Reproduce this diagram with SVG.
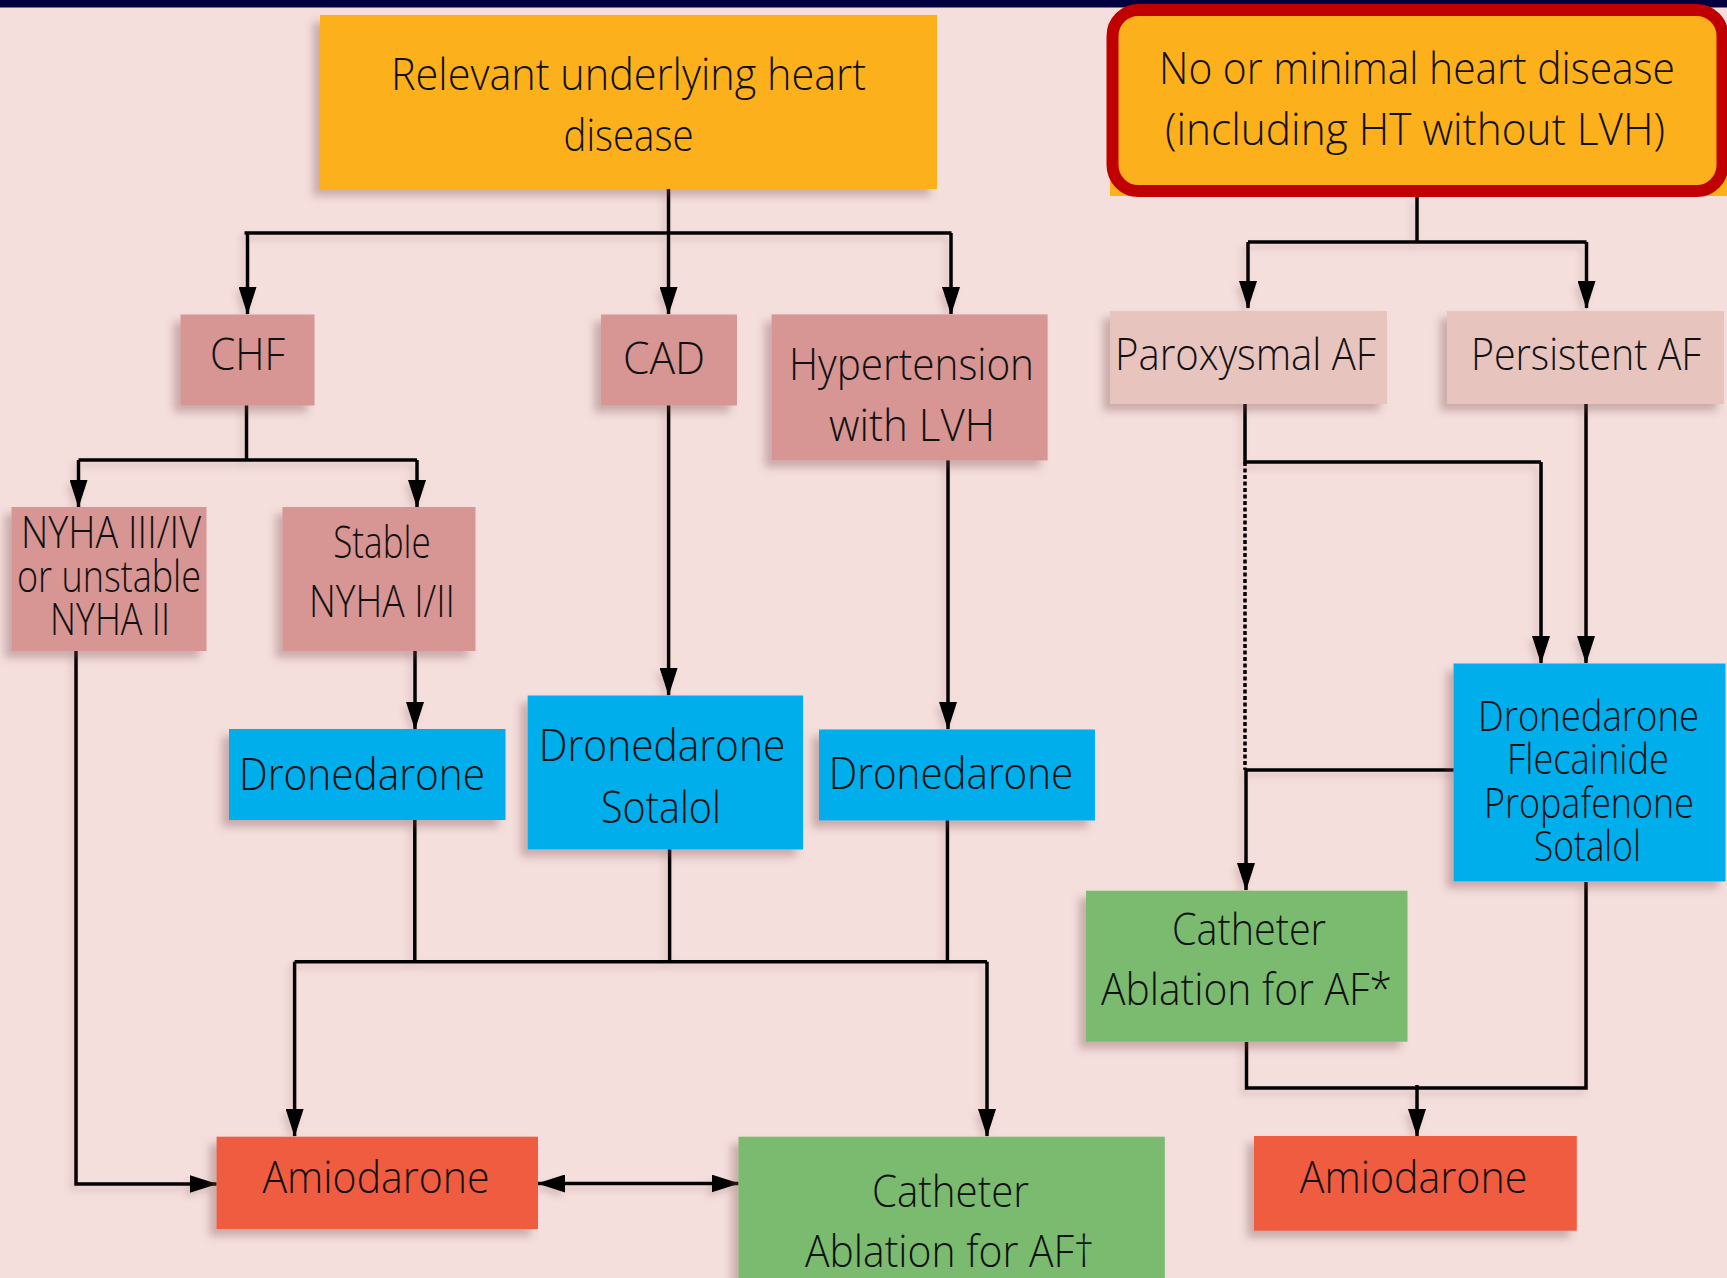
<svg xmlns="http://www.w3.org/2000/svg" width="1727" height="1278" viewBox="0 0 1727 1278">
<style>
.bg{fill:#F4DFDD}
.orange{fill:#FCB01B}
.rose{fill:#D79593}
.light{fill:#E8C4BF}
.blue{fill:#00AEEC}
.green{fill:#7ABB6F}
.amio{fill:#F05B40}
.sh{filter:url(#shadow)}
text{font-family:"Open Sans","Noto Sans","Liberation Sans",sans-serif;font-weight:300;font-size:44px;fill:#111;text-anchor:middle}
.t42{font-size:42px}
.c{fill:none;stroke:#000;stroke-width:3.5}
.arr{marker-end:url(#ah)}
</style>
<defs>
<filter id="shadow" x="-20%" y="-20%" width="140%" height="140%">
<feDropShadow dx="-7" dy="7" stdDeviation="4" flood-color="#7a4a48" flood-opacity="0.35"/>
</filter>
<filter id="lshadow" x="-5%" y="-5%" width="110%" height="110%">
<feDropShadow dx="-4" dy="5" stdDeviation="3" flood-color="#7a4a48" flood-opacity="0.2"/>
</filter>
<marker id="ah" markerUnits="userSpaceOnUse" markerWidth="28" markerHeight="18" viewBox="0 0 28 18" refX="27" refY="9" orient="auto-start-reverse">
<path d="M0,0 L28,9 L0,18 z" fill="#000"/>
</marker>
</defs>
<rect class="bg" x="0" y="0" width="1727" height="1278"/>
<rect x="0" y="0" width="1727" height="7.5" fill="#00003F"/>

<g id="connectors" filter="url(#lshadow)">
<path class="c" d="M668.5,189 V233"/>
<path class="c" d="M244.5,233 H951.5" stroke-width="5"/>
<path class="c arr" d="M247.5,233 V314"/>
<path class="c arr" d="M668.5,233 V314"/>
<path class="c arr" d="M951,233 V314"/>
<path class="c" d="M1417,196 V242"/>
<path class="c" d="M1248,242 H1586.5"/>
<path class="c arr" d="M1248,242 V308"/>
<path class="c arr" d="M1586.5,242 V308"/>
<path class="c" d="M246.5,405 V460"/>
<path class="c" d="M78.5,460 H417"/>
<path class="c arr" d="M78.5,460 V507"/>
<path class="c arr" d="M417,460 V507"/>
<path class="c arr" d="M668.6,405 V695"/>
<path class="c arr" d="M948,460 V729"/>
<path class="c arr" d="M415,651 V729"/>
<path class="c arr" d="M76,651 V1184 H216.6"/>
<path class="c" d="M414.8,820 V961.7"/>
<path class="c" d="M669.6,849 V961.7"/>
<path class="c" d="M947.4,820 V961.7"/>
<path class="c" d="M294.6,961.7 H987" stroke-width="4.5"/>
<path class="c arr" d="M294.6,961.7 V1136"/>
<path class="c arr" d="M987,961.7 V1136"/>
<path class="c" d="M538,1183.5 H738.5" stroke-width="5" marker-start="url(#ah)" marker-end="url(#ah)"/>
<path class="c" d="M1245,404 V462 H1541"/>
<path class="c arr" d="M1541,462 V663"/>
<path class="c arr" d="M1586,404 V663"/>
<path class="c" d="M1245,462 V770" stroke-width="3" stroke-dasharray="4 2.5"/>
<path class="c" d="M1456,770 H1245"/>
<path class="c arr" d="M1246,770 V890"/>
<path class="c" d="M1246.5,1042 V1088 H1586 V882"/>
<path class="c arr" d="M1417,1085 V1136"/>
</g>

<g id="n-relevant">
<rect class="orange sh" x="320" y="15" width="617" height="174"/>
<text x="628.5" y="90" textLength="475" lengthAdjust="spacingAndGlyphs">Relevant underlying heart</text>
<text x="628.5" y="151" textLength="130" lengthAdjust="spacingAndGlyphs">disease</text>
</g>

<g id="n-minimal">
<rect class="orange" x="1110" y="30" width="617" height="166"/>
<rect x="1112.5" y="10" width="610" height="181" rx="26" fill="#FCB01B" stroke="#C00000" stroke-width="12"/>
<text x="1417" y="84" textLength="516" lengthAdjust="spacingAndGlyphs">No or minimal heart disease</text>
<text x="1415" y="145" textLength="500" lengthAdjust="spacingAndGlyphs">(including HT without LVH)</text>
</g>

<g id="n-chf">
<rect class="rose sh" x="180.5" y="314.5" width="134" height="91"/>
<text x="247.5" y="370" textLength="75" lengthAdjust="spacingAndGlyphs">CHF</text>
</g>

<g id="n-cad">
<rect class="rose sh" x="601" y="314.5" width="136" height="91"/>
<text x="664" y="374" textLength="82" lengthAdjust="spacingAndGlyphs">CAD</text>
</g>

<g id="n-htn">
<rect class="rose sh" x="771.6" y="314.4" width="276" height="146"/>
<text x="911.5" y="380" textLength="245" lengthAdjust="spacingAndGlyphs">Hypertension</text>
<text x="912" y="441" textLength="166" lengthAdjust="spacingAndGlyphs">with LVH</text>
</g>

<g id="n-paroxysmal">
<rect class="light sh" x="1110" y="311" width="277" height="93"/>
<text x="1245.5" y="370" textLength="261" lengthAdjust="spacingAndGlyphs">Paroxysmal AF</text>
</g>

<g id="n-persistent">
<rect class="light sh" x="1447" y="311" width="277" height="93"/>
<text x="1586" y="370" textLength="230" lengthAdjust="spacingAndGlyphs">Persistent AF</text>
</g>

<g id="n-nyha34">
<rect class="rose sh" x="11.5" y="507" width="195" height="144"/>
<text x="111" y="548" textLength="180" lengthAdjust="spacingAndGlyphs">NYHA III/IV</text>
<text x="109" y="592" textLength="184" lengthAdjust="spacingAndGlyphs">or unstable</text>
<text x="110" y="635" textLength="120" lengthAdjust="spacingAndGlyphs">NYHA II</text>
</g>

<g id="n-stable">
<rect class="rose sh" x="282.5" y="507" width="193" height="144"/>
<text x="382" y="558" textLength="97.5" lengthAdjust="spacingAndGlyphs">Stable</text>
<text x="382" y="617" textLength="146" lengthAdjust="spacingAndGlyphs">NYHA I/II</text>
</g>

<g id="n-dron-left">
<rect class="blue sh" x="229" y="729" width="276.5" height="91"/>
<text x="362" y="790" textLength="246" lengthAdjust="spacingAndGlyphs">Dronedarone</text>
</g>

<g id="n-dron-sotalol">
<rect class="blue sh" x="527.6" y="695.5" width="275.5" height="154"/>
<text x="662" y="761" textLength="246.5" lengthAdjust="spacingAndGlyphs">Dronedarone</text>
<text x="661" y="823" textLength="120" lengthAdjust="spacingAndGlyphs">Sotalol</text>
</g>

<g id="n-dron-right">
<rect class="blue sh" x="819" y="729.5" width="276" height="91"/>
<text x="951" y="789" textLength="244.5" lengthAdjust="spacingAndGlyphs">Dronedarone</text>
</g>

<g id="n-rhythm">
<rect class="blue sh" x="1453.5" y="663.5" width="272" height="218"/>
<text class="t42" x="1588.5" y="731" textLength="221" lengthAdjust="spacingAndGlyphs">Dronedarone</text>
<text class="t42" x="1588" y="774" textLength="162" lengthAdjust="spacingAndGlyphs">Flecainide</text>
<text class="t42" x="1589" y="818" textLength="210" lengthAdjust="spacingAndGlyphs">Propafenone</text>
<text class="t42" x="1587.5" y="861" textLength="107" lengthAdjust="spacingAndGlyphs">Sotalol</text>
</g>

<g id="n-cath-right">
<rect class="green sh" x="1086" y="890.7" width="321.5" height="151"/>
<text x="1249" y="945" textLength="154" lengthAdjust="spacingAndGlyphs">Catheter</text>
<text x="1246.5" y="1005" textLength="291" lengthAdjust="spacingAndGlyphs">Ablation for AF*</text>
</g>

<g id="n-amio-left">
<rect class="amio sh" x="216.6" y="1136.7" width="321.4" height="92.3"/>
<text x="376" y="1193" textLength="227" lengthAdjust="spacingAndGlyphs">Amiodarone</text>
</g>

<g id="n-cath-left">
<rect class="green sh" x="738.5" y="1136.7" width="426.3" height="160"/>
<text x="950.5" y="1207" textLength="157" lengthAdjust="spacingAndGlyphs">Catheter</text>
<text x="949.5" y="1267" textLength="289" lengthAdjust="spacingAndGlyphs">Ablation for AF†</text>
</g>

<g id="n-amio-right">
<rect class="amio sh" x="1254" y="1136" width="322.8" height="94.7"/>
<text x="1413.5" y="1193" textLength="227.5" lengthAdjust="spacingAndGlyphs">Amiodarone</text>
</g>
</svg>
